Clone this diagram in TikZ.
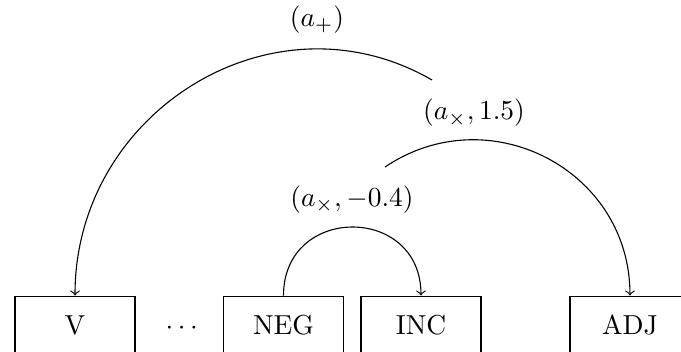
\documentclass[tikz,border=0pt]{standalone}
\usepackage{
  amsmath,
  amsfonts,
  amssymb
}
\usepackage{tikz}
\usetikzlibrary{arrows}

\begin{document}
\begin{tikzpicture}[scale=1.0,
    word/.style={draw, minimum width=1.536cm, minimum height=0.74cm}]
    \path[use as bounding box, clip] (0,0) rectangle (8.717,4.493);

    % Words
    \node[word] (v) at (0.96,0.333) {V};
    \node[anchor=base] (dots) at (2.355,0.205) {$\cdots$};
    \node[word] (neg) at (3.629,0.333) {NEG};
    \node[word] (inc) at (5.389,0.333) {INC};
    \node[word] (adj) at (8.064,0.333) {ADJ};

    % Loose ends of the long arcs
    \coordinate (plusend) at (5.530,3.469);
    \coordinate (timesend) at (4.928,2.355);

    % Arcs
    \draw[->] (plusend) to[out=150,in=90,looseness=1.13] (v.north);
    \draw[->] (timesend) to[out=34,in=90,looseness=1.16] (adj.north);
    \draw[->] (neg.north) to[out=90,in=90,looseness=1.7] (inc.north);

    % Labels
    \node (lplus) at (4.058,4.237) {$(a_+)$};
    \node (ltimes) at (6.067,3.046) {$(a_\times, 1.5)$};
    \node (lneg) at (4.506,1.933) {$(a_\times, -0.4)$};
\end{tikzpicture}
\end{document}
